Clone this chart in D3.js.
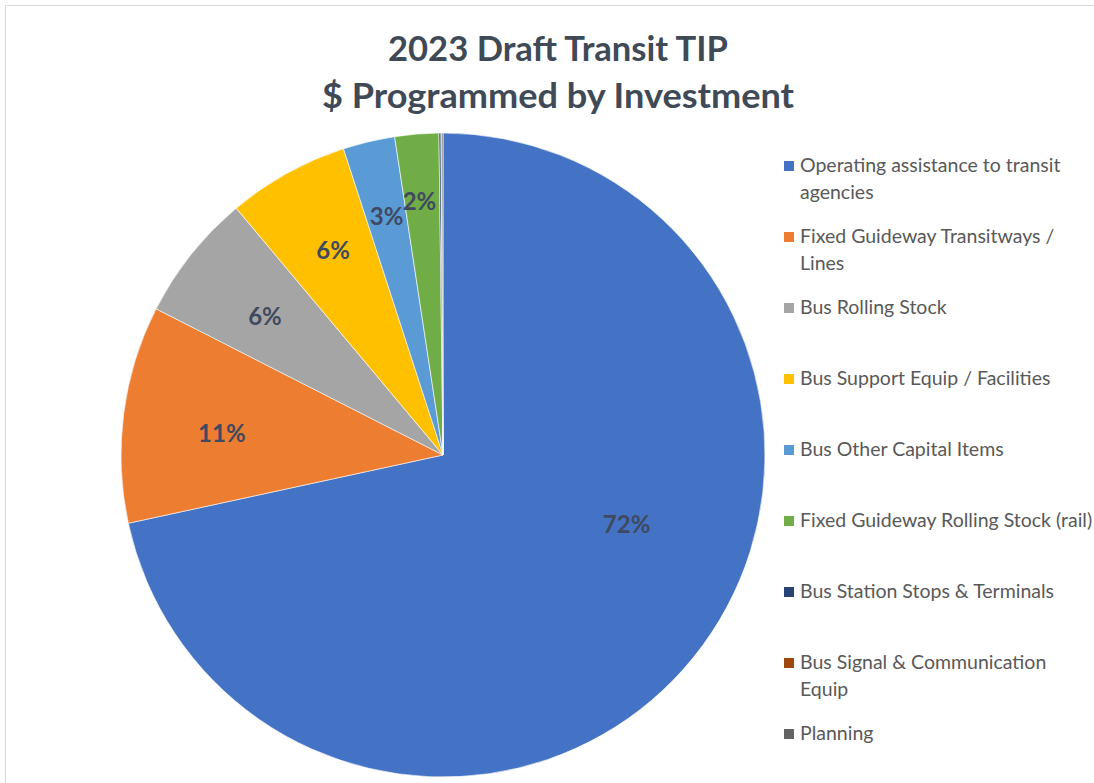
<!DOCTYPE html>
<html>
<head>
<meta charset="utf-8">
<script src="https://cdn.jsdelivr.net/npm/d3@7"></script>
<style>
  html, body { margin: 0; padding: 0; background: #ffffff; }
  svg { display: block; }
</style>
</head>
<body>
<svg id="chart" width="1094" height="783"></svg>
<script>
// Investment categories, in slice order (clockwise from 12 o'clock)
const categories = [
  "Operating assistance to transit agencies",
  "Fixed Guideway Transitways / Lines",
  "Bus Rolling Stock",
  "Bus Support Equip / Facilities",
  "Bus Other Capital Items",
  "Fixed Guideway Rolling Stock (rail)",
  "Bus Station Stops & Terminals",
  "Bus Signal & Communication Equip",
  "Planning"
];

// Share of programmed dollars (percent)
const shares = [71.6, 10.9, 6.4, 6.1, 2.6, 2.2, 0.1, 0.04, 0.06];

// Legend text, wrapped as in the chart
const legendLines = [
  ["Operating assistance to transit", "agencies"],
  ["Fixed Guideway Transitways /", "Lines"],
  ["Bus Rolling Stock"],
  ["Bus Support Equip / Facilities"],
  ["Bus Other Capital Items"],
  ["Fixed Guideway Rolling Stock (rail)"],
  ["Bus Station Stops & Terminals"],
  ["Bus Signal & Communication", "Equip"],
  ["Planning"]
];

const titleLines = ["2023 Draft Transit TIP", "$ Programmed by Investment"];

const palette = ["#4472C4", "#ED7D31", "#A5A5A5", "#FFC000", "#5B9BD5",
                 "#70AD47", "#264478", "#9E480E", "#636363"];

const svg = d3.select("#chart");

// light chart-area frame
svg.append("path")
  .attr("d", "M5.5,790 V5.5 H1100")
  .attr("fill", "none")
  .attr("stroke", "#d9d9d9")
  .attr("stroke-width", 1);

// title
const titleWidths = [340, 472];
svg.append("g").selectAll("text")
  .data(titleLines)
  .join("text")
  .attr("x", 558)
  .attr("y", (d, i) => 61 + i * 47)
  .attr("text-anchor", "middle")
  .attr("font-family", "Lato, 'Open Sans', sans-serif")
  .attr("font-weight", 700)
  .attr("font-size", 35)
  .attr("fill", "#404a57")
  .attr("textLength", (d, i) => titleWidths[i])
  .attr("lengthAdjust", "spacingAndGlyphs")
  .text(d => d);

// pie
const cx = 443, cy = 455, R = 322;
const color = d3.scaleOrdinal().domain(categories).range(palette);
const pie = d3.pie().sort(null).value(d => d.v);
const data = categories.map((c, i) => ({ c, v: shares[i] }));
const arcs = pie(data);
const arc = d3.arc().innerRadius(0).outerRadius(R);

const g = svg.append("g").attr("transform", `translate(${cx},${cy})`);
g.selectAll("path")
  .data(arcs)
  .join("path")
  .attr("d", arc)
  .attr("fill", d => color(d.data.c))
  .attr("stroke", "#ffffff")
  .attr("stroke-width", 0.6);

// data labels: radial position (fraction of R) and position along the slice
const labelPlacement = [
  { k: 0.61, a: 0.43 }, { k: 0.69, a: 0.45 }, { k: 0.70, a: 0.47 },
  { k: 0.72, a: 0.53 }, { k: 0.76, a: 0.5 }, { k: 0.79, a: 0.42 }
];
const fmt = d3.format(".0%");
g.selectAll("text.lbl")
  .data(arcs.filter(d => d.data.v >= 1))
  .join("text")
  .attr("class", "lbl")
  .attr("transform", (d, i) => {
    const p = labelPlacement[i] || { k: 0.7, a: 0.5 };
    const ang = d.startAngle + (d.endAngle - d.startAngle) * p.a;
    const r = R * p.k;
    return `translate(${r * Math.sin(ang)},${-r * Math.cos(ang)})`;
  })
  .attr("text-anchor", "middle")
  .attr("dy", "0.35em")
  .attr("font-family", "Lato, 'Open Sans', sans-serif")
  .attr("font-weight", 700)
  .attr("font-size", 24)
  .attr("fill", "#3f4a60")
  .text(d => fmt(d.data.v / 100));

// legend
const legendY = d3.scalePoint().domain(categories).range([165, 733]);
const lg = svg.append("g");
const items = lg.selectAll("g")
  .data(categories)
  .join("g")
  .attr("transform", d => `translate(0,${legendY(d)})`);
items.append("rect")
  .attr("x", 784).attr("y", -4)
  .attr("width", 10).attr("height", 10)
  .attr("fill", d => color(d));
items.append("text")
  .attr("font-family", "Lato, 'Open Sans', sans-serif")
  .attr("font-size", 19.5)
  .attr("fill", "#595959")
  .selectAll("tspan")
  .data((d, i) => legendLines[i])
  .join("tspan")
  .attr("x", 800)
  .attr("y", (d, j) => j * 27)
  .attr("dy", "0.35em")
  .text(d => d);
</script>
</body>
</html>
